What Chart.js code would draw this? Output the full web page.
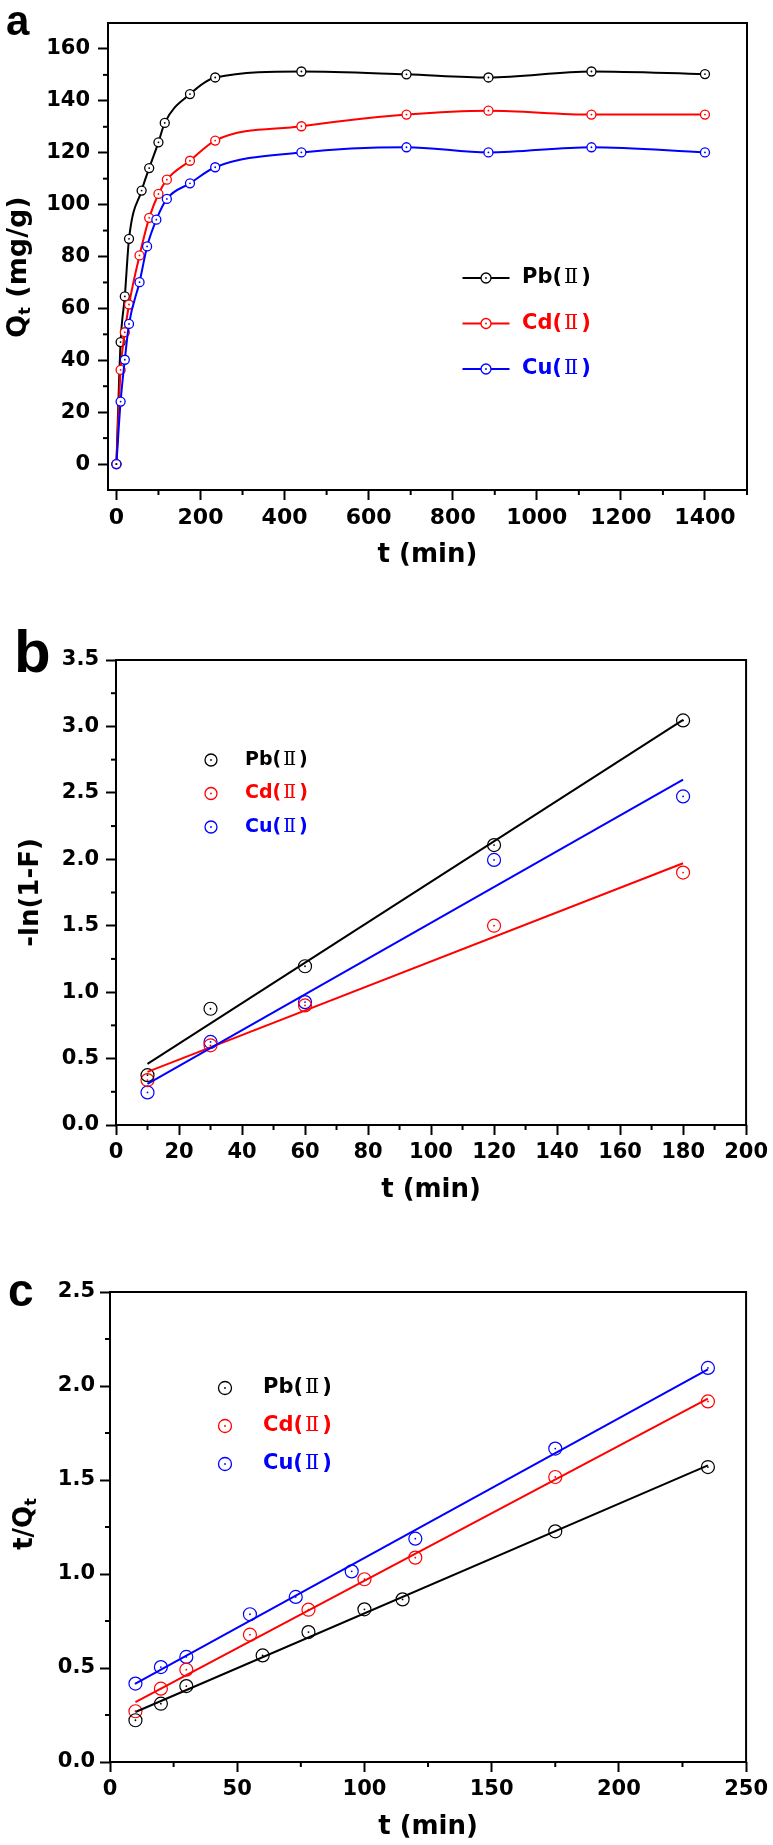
<!DOCTYPE html>
<html>
<head>
<meta charset="utf-8">
<title>Adsorption kinetics</title>
<script src="https://cdn.jsdelivr.net/npm/chart.js@4.4.1/dist/chart.umd.min.js"></script>
<style>
  html, body { margin: 0; padding: 0; background: #fff; }
  body { width: 773px; height: 1845px; position: relative; overflow: hidden; }
  canvas { position: absolute; left: 0; }
</style>
</head>
<body>
<canvas id="chartA" width="773" height="600" style="top:0"></canvas>
<canvas id="chartB" width="773" height="620" style="top:600px"></canvas>
<canvas id="chartC" width="773" height="625" style="top:1220px"></canvas>
<script>
// ions, in legend order
const ionNames = ['Pb', 'Cd', 'Cu'];
const ionColors = ['#000000', '#ff0000', '#0000ff'];

// (a) Qt (mg/g) vs t (min)
const tPbA = [0, 10, 20, 30, 60, 78, 100, 115, 175, 235, 440, 690, 885, 1130, 1400];
const tCdA = [0, 10, 20, 30, 55, 78, 100, 120, 175, 235, 440, 690, 885, 1130, 1400];
const tCuA = [0, 10, 20, 30, 55, 73, 95, 120, 175, 235, 440, 690, 885, 1130, 1400];
const qPbA = [0, 47.0, 64.6, 86.8, 105.4, 114.1, 124.0, 131.5, 142.6, 149.0, 151.3, 150.2, 149.0, 151.3, 150.3];
const qCdA = [0, 36.3, 50.8, 61.5, 80.4, 94.9, 104.1, 109.6, 116.9, 124.7, 130.2, 134.7, 136.2, 134.7, 134.7];
const qCuA = [0, 24.1, 40.2, 54.0, 70.1, 83.9, 94.2, 102.2, 108.2, 114.4, 120.1, 122.1, 120.1, 122.1, 120.1];
const xTicksA = [0, 200, 400, 600, 800, 1000, 1200, 1400];
const xMinorA = [100, 300, 500, 700, 900, 1100, 1300, 1500];
const yTicksA = [0, 20, 40, 60, 80, 100, 120, 140, 160];
const yMinorA = [10, 30, 50, 70, 90, 110, 130, 150];

// (b) -ln(1-F) vs t (min)
const tB = [10, 30, 60, 120, 180];
const fPbB = [0.375, 0.875, 1.195, 2.107, 3.045];
const fCdB = [0.338, 0.60, 0.90, 1.50, 1.90];
const fCuB = [0.245, 0.625, 0.925, 1.995, 2.473];
const tFitB = [10, 180];
const fitPbB = [0.46, 3.05];
const fitCdB = [0.40, 1.97];
const fitCuB = [0.31, 2.60];
const xTicksB = [0, 20, 40, 60, 80, 100, 120, 140, 160, 180, 200];
const xMinorB = [10, 30, 50, 70, 90, 110, 130, 150, 170, 190];
const yTicksB = [0, 0.5, 1.0, 1.5, 2.0, 2.5, 3.0, 3.5];
const yMinorB = [0.25, 0.75, 1.25, 1.75, 2.25, 2.75, 3.25];

// (c) t/Qt vs t (min)
const tPbC = [10, 20, 30, 60, 78, 100, 115, 175, 235];
const tCdC = [10, 20, 30, 55, 78, 100, 120, 175, 235];
const tCuC = [10, 20, 30, 55, 73, 95, 120, 175, 235];
const rPbC = [0.222, 0.310, 0.404, 0.567, 0.691, 0.812, 0.865, 1.227, 1.569];
const rCdC = [0.270, 0.390, 0.491, 0.677, 0.810, 0.972, 1.087, 1.516, 1.918];
const rCuC = [0.417, 0.505, 0.559, 0.786, 0.878, 1.014, 1.188, 1.667, 2.096];
const tFitC = [10, 235];
const fitPbC = [0.266, 1.578];
const fitCdC = [0.319, 1.933];
const fitCuC = [0.417, 2.089];
const xTicksC = [0, 50, 100, 150, 200, 250];
const xMinorC = [25, 75, 125, 175, 225];
const yTicksC = [0, 0.5, 1.0, 1.5, 2.0, 2.5];
const yMinorC = [0.25, 0.75, 1.25, 1.75, 2.25];

const SANS = '"DejaVu Sans", "Liberation Sans", sans-serif';
const ARIAL = '"Liberation Sans", Arial, sans-serif';
const SERIF = '"DejaVu Serif", "Liberation Serif", serif';

function font(size, weight, family) {
  return weight + ' ' + size + 'px ' + family;
}

function pts(xs, ys) {
  return xs.map((x, i) => ({ x: x, y: ys[i] }));
}

// write a row of differently styled text pieces
function drawParts(ctx, parts, x, y, align) {
  let w = 0;
  parts.forEach(p => { ctx.font = p.font; w += ctx.measureText(p.text).width + (p.gap || 0); });
  let cx = align === 'center' ? x - w / 2 : x;
  parts.forEach(p => {
    ctx.font = p.font;
    ctx.fillStyle = p.color || '#000';
    ctx.fillText(p.text, cx, y + (p.dy || 0));
    cx += ctx.measureText(p.text).width + (p.gap || 0);
  });
}

const framePlugin = {
  id: 'frame',
  afterDraw(chart) {
    const a = chart.chartArea, ctx = chart.ctx;
    ctx.save();
    ctx.strokeStyle = '#000';
    ctx.lineWidth = 2;
    ctx.strokeRect(a.left, a.top, a.right - a.left, a.bottom - a.top);
    ctx.restore();
  }
};

const minorPlugin = {
  id: 'minorTicks',
  afterDraw(chart, args, opts) {
    const ctx = chart.ctx;
    ctx.save();
    ctx.strokeStyle = '#000';
    ctx.lineWidth = 2;
    ['x', 'y'].forEach(id => {
      const s = chart.scales[id];
      (opts[id] || []).forEach(v => {
        const p = s.getPixelForValue(v);
        ctx.beginPath();
        if (id === 'x') { ctx.moveTo(p, s.top); ctx.lineTo(p, s.top + 5); }
        else { ctx.moveTo(s.right, p); ctx.lineTo(s.right - 5, p); }
        ctx.stroke();
      });
    });
    ctx.restore();
  }
};

// little dot in the middle of every hollow marker
const dotPlugin = {
  id: 'centerDots',
  afterDatasetsDraw(chart) {
    const ctx = chart.ctx;
    chart.data.datasets.forEach((ds, i) => {
      if (!ds.pointRadius) return;
      ctx.save();
      ctx.fillStyle = ds.borderColor;
      chart.getDatasetMeta(i).data.forEach(pt => {
        ctx.beginPath();
        ctx.arc(pt.x, pt.y, 0.9, 0, Math.PI * 2);
        ctx.fill();
      });
      ctx.restore();
    });
  }
};

const textPlugin = {
  id: 'extraText',
  afterDraw(chart, args, opts) {
    const ctx = chart.ctx;
    (opts.items || []).forEach(it => {
      ctx.save();
      ctx.translate(it.x, it.y);
      if (it.rotate) ctx.rotate(it.rotate);
      ctx.textAlign = 'left';
      ctx.textBaseline = it.baseline || 'alphabetic';
      drawParts(ctx, it.parts, 0, 0, it.align);
      ctx.restore();
    });
  }
};

const keyPlugin = {
  id: 'keyBox',
  afterDraw(chart, args, o) {
    if (!o.x) return;
    const ctx = chart.ctx;
    ionNames.forEach((name, i) => {
      const c = ionColors[i];
      const y = o.y + i * o.gap;
      ctx.save();
      ctx.strokeStyle = c;
      if (o.lineLen) {
        ctx.lineWidth = 2.2;
        ctx.beginPath();
        ctx.moveTo(o.x - o.lineLen / 2, y);
        ctx.lineTo(o.x + o.lineLen / 2, y);
        ctx.stroke();
      }
      ctx.lineWidth = 1.3;
      ctx.fillStyle = '#fff';
      ctx.beginPath();
      ctx.arc(o.x, y, o.r, 0, Math.PI * 2);
      ctx.fill();
      ctx.stroke();
      ctx.fillStyle = c;
      ctx.beginPath();
      ctx.arc(o.x, y, 0.9, 0, Math.PI * 2);
      ctx.fill();
      ctx.textBaseline = 'middle';
      drawParts(ctx, [
        { text: name + '(', font: font(o.size, 'bold', SANS), color: c, gap: 2 },
        { text: 'Ⅱ', font: font(o.size, 'normal', SERIF), color: c, gap: 3 },
        { text: ')', font: font(o.size, 'bold', SANS), color: c }
      ], o.textX, y, 'left');
      ctx.restore();
    });
  }
};

function curve(xs, ys, i) {
  return {
    data: pts(xs, ys),
    showLine: true,
    borderColor: ionColors[i],
    borderWidth: 2,
    cubicInterpolationMode: 'monotone',
    pointRadius: 4.5,
    pointBorderWidth: 1.3,
    pointBackgroundColor: '#fff',
    pointBorderColor: ionColors[i]
  };
}

function marks(xs, ys, i, r) {
  return {
    data: pts(xs, ys),
    showLine: false,
    borderColor: ionColors[i],
    pointRadius: r,
    pointBorderWidth: 1.2,
    pointBackgroundColor: 'rgba(255,255,255,0)',
    pointBorderColor: ionColors[i]
  };
}

function fit(xs, ys, i) {
  return {
    data: pts(xs, ys),
    showLine: true,
    borderColor: ionColors[i],
    borderWidth: 2,
    pointRadius: 0
  };
}

function axes(c) {
  const tickGrid = { drawOnChartArea: false, drawTicks: true, tickLength: 10, tickWidth: 2, tickColor: '#000' };
  return {
    x: {
      type: 'linear', min: c.xMin, max: c.xMax,
      afterBuildTicks: s => { s.ticks = c.xTicks.map(v => ({ value: v })); },
      afterFit: s => { s.height = 81; },
      grid: tickGrid,
      border: { display: false },
      ticks: { color: '#000', font: { family: SANS, weight: 'bold', size: c.xTickSize }, padding: 5, maxRotation: 0, autoSkip: false, callback: v => String(v) },
      title: { display: true, text: 't (min)', color: '#000', font: { family: SANS, weight: 'bold', size: 26 }, padding: { top: 0, bottom: 0 } }
    },
    y: {
      type: 'linear', min: c.yMin, max: c.yMax,
      afterBuildTicks: s => { s.ticks = c.yTicks.map(v => ({ value: v })); },
      afterFit: s => { s.width = c.yWidth; },
      grid: tickGrid,
      border: { display: false },
      ticks: { color: '#000', font: { family: SANS, weight: 'bold', size: 21 }, padding: c.yPad, autoSkip: false, callback: v => c.yFmt(v) },
      title: c.yTitle
        ? { display: true, text: c.yTitle, color: '#000', font: { family: SANS, weight: 'bold', size: 26 }, padding: { top: 16, bottom: 0 } }
        : { display: false }
    }
  };
}

const allPlugins = [framePlugin, minorPlugin, dotPlugin, textPlugin, keyPlugin];

// ---- panel a ----
new Chart(document.getElementById('chartA'), {
  type: 'scatter',
  data: { datasets: [curve(tCuA, qCuA, 2), curve(tCdA, qCdA, 1), curve(tPbA, qPbA, 0)] },
  options: {
    responsive: false,
    animation: false,
    layout: { padding: { left: 0, top: 23, right: 26, bottom: 29 } },
    scales: axes({ xMin: -20, xMax: 1500, xTicks: xTicksA, xTickSize: 22, yMin: -10, yMax: 170, yTicks: yTicksA, yWidth: 108, yPad: 8, yFmt: v => String(v) }),
    plugins: {
      legend: { display: false },
      tooltip: { enabled: false },
      minorTicks: { x: xMinorA, y: yMinorA },
      keyBox: { x: 486, y: 278, gap: 45.5, lineLen: 47, r: 5, textX: 522, size: 21 },
      extraText: {
        items: [
          { x: 6, y: 35, parts: [{ text: 'a', font: font(42, 'bold', ARIAL) }] },
          { x: 19, y: 267, rotate: -Math.PI / 2, align: 'center', baseline: 'middle', parts: [
            { text: 'Q', font: font(27, 'bold', SANS) },
            { text: 't', font: font(16, 'bold', SANS), dy: 7 },
            { text: ' (mg/g)', font: font(27, 'bold', SANS) }
          ] }
        ]
      }
    }
  },
  plugins: allPlugins
});

// ---- panel b ----
new Chart(document.getElementById('chartB'), {
  type: 'scatter',
  data: { datasets: [
    fit(tFitB, fitCuB, 2), fit(tFitB, fitCdB, 1), fit(tFitB, fitPbB, 0),
    marks(tB, fPbB, 0, 6.5), marks(tB, fCdB, 1, 6.5), marks(tB, fCuB, 2, 6.5)
  ] },
  options: {
    responsive: false,
    animation: false,
    layout: { padding: { left: 0, top: 60, right: 25, bottom: 14 } },
    scales: axes({ xMin: 0, xMax: 200, xTicks: xTicksB, xTickSize: 21, yMin: 0, yMax: 3.5, yTicks: yTicksB, yWidth: 116, yPad: 7, yFmt: v => v.toFixed(1), yTitle: '-ln(1-F)' }),
    plugins: {
      legend: { display: false },
      tooltip: { enabled: false },
      minorTicks: { x: xMinorB, y: yMinorB },
      keyBox: { x: 211, y: 160, gap: 33.5, lineLen: 0, r: 6, textX: 245, size: 19 },
      extraText: {
        items: [
          { x: 14, y: 72, parts: [{ text: 'b', font: font(60, 'bold', ARIAL) }] }
        ]
      }
    }
  },
  plugins: allPlugins
});

// ---- panel c ----
new Chart(document.getElementById('chartC'), {
  type: 'scatter',
  data: { datasets: [
    fit(tFitC, fitCuC, 2), fit(tFitC, fitCdC, 1), fit(tFitC, fitPbC, 0),
    marks(tPbC, rPbC, 0, 6.5), marks(tCdC, rCdC, 1, 6.5), marks(tCuC, rCuC, 2, 6.5)
  ] },
  options: {
    responsive: false,
    animation: false,
    layout: { padding: { left: 0, top: 72, right: 25, bottom: 2 } },
    scales: axes({ xMin: 0, xMax: 250, xTicks: xTicksC, xTickSize: 21, yMin: 0, yMax: 2.5, yTicks: yTicksC, yWidth: 110, yPad: 5, yFmt: v => v.toFixed(1) }),
    plugins: {
      legend: { display: false },
      tooltip: { enabled: false },
      minorTicks: { x: xMinorC, y: yMinorC },
      keyBox: { x: 225, y: 168, gap: 38, lineLen: 0, r: 6.5, textX: 263, size: 21 },
      extraText: {
        items: [
          { x: 8, y: 86, parts: [{ text: 'c', font: font(46, 'bold', ARIAL) }] },
          { x: 25, y: 304, rotate: -Math.PI / 2, align: 'center', baseline: 'middle', parts: [
            { text: 't/Q', font: font(26, 'bold', SANS) },
            { text: 't', font: font(16, 'bold', SANS), dy: 7 }
          ] }
        ]
      }
    }
  },
  plugins: allPlugins
});
</script>
</body>
</html>
